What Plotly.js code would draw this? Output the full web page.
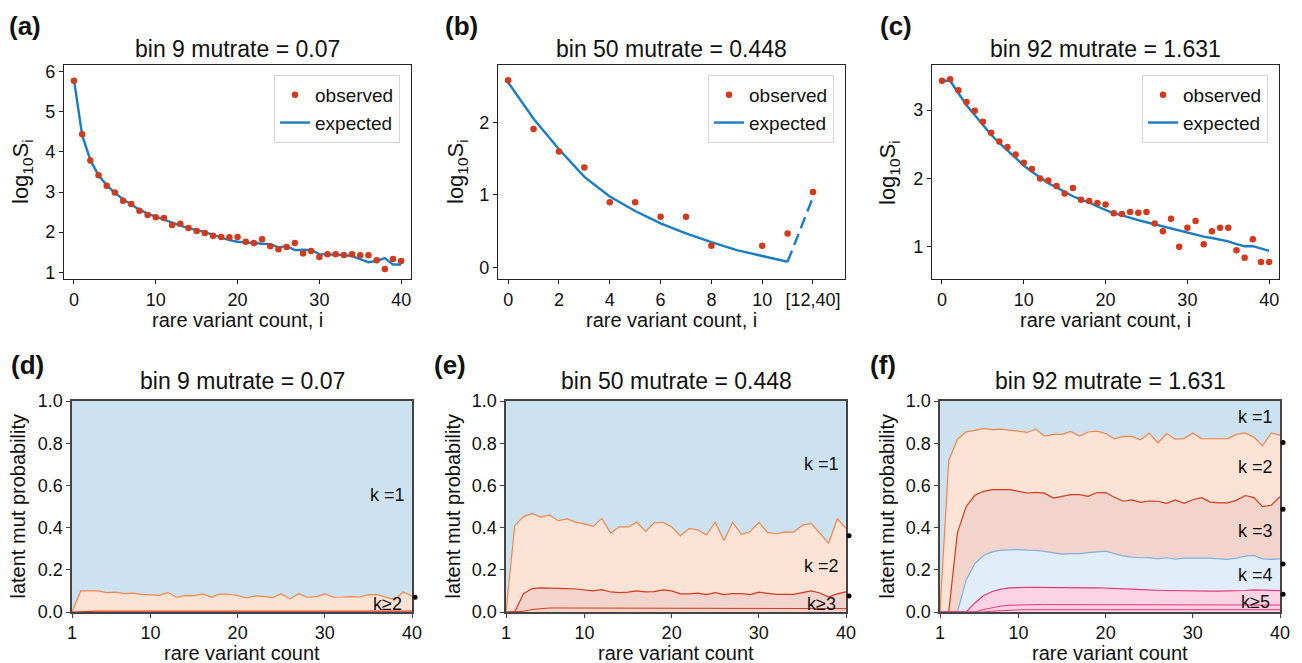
<!DOCTYPE html>
<html>
<head>
<meta charset="utf-8">
<script src="https://cdn.plot.ly/plotly-3.0.1.min.js"></script>
<style>html,body{margin:0;padding:0;background:#fff}#chart{width:1302px;height:663px}</style>
</head>
<body>
<div id="chart"></div>
<script>
// ---------- DATA ----------
// Panel (a) bin 9
const titleA = "bin 9 mutrate = 0.07";
const aX = [0,1,2,3,4,5,6,7,8,9,10,11,12,13,14,15,16,17,18,19,20,21,22,23,24,25,26,27,28,29,30,31,32,33,34,35,36,37,38,39,40];
const aObs = [5.78,4.44,3.79,3.42,3.16,2.99,2.78,2.70,2.53,2.43,2.37,2.35,2.18,2.21,2.10,2.03,1.98,1.91,1.88,1.87,1.88,1.76,1.73,1.82,1.65,1.57,1.63,1.73,1.47,1.53,1.38,1.45,1.45,1.43,1.45,1.42,1.42,1.30,1.08,1.33,1.28];
const aExp = [5.80,4.42,3.80,3.42,3.17,2.98,2.82,2.68,2.56,2.46,2.38,2.31,2.22,2.16,2.10,2.05,2.00,1.93,1.87,1.80,1.76,1.74,1.73,1.71,1.70,1.62,1.65,1.55,1.56,1.55,1.45,1.44,1.43,1.43,1.40,1.33,1.25,1.28,1.35,1.19,1.19];

// Panel (b) bin 50
const titleB = "bin 50 mutrate = 0.448";
const bObsX = [0,1,2,3,4,5,6,7,8,10,11,12];
const bObs = [2.58,1.91,1.60,1.38,0.90,0.90,0.70,0.70,0.30,0.30,0.47,1.04];
const bExpX = [0,1,2,3,4,5,6,7,8,9,10,11];
const bExp = [2.55,2.05,1.63,1.25,0.98,0.78,0.61,0.47,0.35,0.24,0.16,0.08];
const bTailX = [11,12];
const bTail = [0.08,0.97];
const bTickVals = [0,2,4,6,8,10,12];
const bTickText = ["0","2","4","6","8","10","[12,40]"];

// Panel (c) bin 92
const titleC = "bin 92 mutrate = 1.631";
const cObs = [3.43,3.45,3.29,3.12,2.99,2.83,2.67,2.54,2.46,2.35,2.23,2.14,2.00,1.97,1.89,1.78,1.86,1.69,1.67,1.64,1.62,1.49,1.48,1.51,1.50,1.51,1.34,1.23,1.41,1.00,1.28,1.38,1.04,1.23,1.28,1.28,0.95,0.84,1.11,0.78,0.78];
const cExp = [3.43,3.43,3.25,3.07,2.93,2.79,2.64,2.52,2.41,2.30,2.19,2.10,2.01,1.93,1.87,1.80,1.74,1.69,1.65,1.59,1.54,1.49,1.46,1.42,1.39,1.36,1.33,1.29,1.26,1.24,1.21,1.18,1.15,1.13,1.11,1.08,1.04,1.01,1.01,0.98,0.94];

// Bottom panels: x = rare variant count 1..40; cumulative boundaries P(k>=n)
const kX = [1,2,3,4,5,6,7,8,9,10,11,12,13,14,15,16,17,18,19,20,21,22,23,24,25,26,27,28,29,30,31,32,33,34,35,36,37,38,39,40];
const dK2 = [0,0.100,0.100,0.100,0.092,0.094,0.087,0.089,0.084,0.082,0.079,0.092,0.070,0.079,0.078,0.086,0.071,0.086,0.084,0.078,0.067,0.076,0.074,0.068,0.087,0.062,0.087,0.070,0.073,0.086,0.070,0.071,0.073,0.071,0.082,0.082,0.070,0.059,0.095,0.076];
const dK3 = [0,0.002,0.004,0.004,0.004,0.004,0.004,0.004,0.004,0.004,0.004,0.004,0.004,0.004,0.004,0.004,0.004,0.004,0.004,0.004,0.004,0.004,0.004,0.004,0.004,0.004,0.004,0.004,0.004,0.004,0.004,0.004,0.004,0.004,0.004,0.004,0.004,0.004,0.004,0.004];
const eK2 = [0,0.409,0.452,0.467,0.450,0.460,0.433,0.441,0.426,0.418,0.406,0.444,0.374,0.404,0.403,0.426,0.382,0.423,0.425,0.404,0.361,0.395,0.390,0.365,0.426,0.339,0.425,0.368,0.380,0.425,0.377,0.371,0.380,0.379,0.412,0.420,0.374,0.325,0.442,0.396];
const eK3 = [0,0,0.087,0.111,0.114,0.114,0.112,0.111,0.109,0.106,0.100,0.106,0.095,0.092,0.094,0.100,0.095,0.097,0.105,0.100,0.086,0.086,0.089,0.082,0.092,0.082,0.087,0.087,0.082,0.094,0.090,0.084,0.084,0.084,0.092,0.100,0.090,0.071,0.086,0.095];
const eK4 = [0,0,0.003,0.012,0.017,0.019,0.019,0.019,0.019,0.018,0.018,0.018,0.018,0.018,0.017,0.017,0.017,0.017,0.017,0.017,0.017,0.016,0.016,0.016,0.016,0.016,0.016,0.016,0.016,0.016,0.016,0.016,0.016,0.016,0.016,0.016,0.016,0.016,0.016,0.016];
const fK2 = [0,0.718,0.819,0.854,0.861,0.870,0.864,0.867,0.862,0.857,0.851,0.867,0.834,0.842,0.842,0.856,0.834,0.853,0.857,0.846,0.821,0.832,0.832,0.816,0.848,0.802,0.846,0.819,0.822,0.848,0.822,0.821,0.822,0.822,0.842,0.849,0.829,0.788,0.849,0.838];
const fK3 = [0,0,0.376,0.499,0.553,0.572,0.580,0.580,0.580,0.572,0.564,0.567,0.563,0.540,0.548,0.556,0.556,0.548,0.566,0.566,0.544,0.525,0.531,0.520,0.526,0.525,0.515,0.531,0.515,0.532,0.542,0.521,0.517,0.517,0.529,0.552,0.542,0.499,0.506,0.547];
const fK4 = [0,0,0,0.151,0.230,0.268,0.285,0.293,0.296,0.296,0.293,0.292,0.287,0.282,0.274,0.277,0.277,0.281,0.284,0.288,0.277,0.266,0.260,0.257,0.258,0.252,0.257,0.250,0.255,0.255,0.258,0.255,0.252,0.249,0.255,0.265,0.268,0.252,0.249,0.252];
const fK5 = [0,0,0,0,0.043,0.078,0.097,0.108,0.114,0.117,0.117,0.117,0.116,0.115,0.115,0.114,0.114,0.114,0.115,0.114,0.112,0.110,0.108,0.106,0.103,0.103,0.102,0.101,0.100,0.098,0.099,0.099,0.099,0.099,0.100,0.102,0.105,0.103,0.101,0.101];
const fK6 = [0,0,0,0,0,0.012,0.020,0.028,0.032,0.034,0.035,0.035,0.035,0.035,0.035,0.035,0.035,0.035,0.035,0.035,0.035,0.035,0.034,0.034,0.034,0.034,0.033,0.033,0.033,0.033,0.033,0.033,0.033,0.033,0.033,0.033,0.033,0.033,0.033,0.033];
const fK7 = [0,0,0,0,0,0,0.004,0.007,0.009,0.010,0.011,0.011,0.011,0.011,0.011,0.011,0.011,0.011,0.011,0.011,0.011,0.011,0.011,0.011,0.011,0.011,0.011,0.011,0.011,0.011,0.011,0.011,0.011,0.011,0.011,0.011,0.011,0.011,0.011,0.011];
// marginal (average) probabilities shown as dots right of each panel
const dDots = [0.070];
const eDots = [0.361, 0.076];
const fDots = [0.803, 0.487, 0.227, 0.084];
// region labels
const dLabels = ["k =1", "k≥2"]; const dLabelY = [0.553, 0.036];
const eLabels = ["k =1", "k =2", "k≥3"]; const eLabelY = [0.70, 0.22, 0.04];
const fLabels = ["k =1", "k =2", "k =3", "k =4", "k≥5"]; const fLabelY = [0.924, 0.686, 0.385, 0.174, 0.048];
const panelLetters = ["(a)","(b)","(c)","(d)","(e)","(f)"];

// ---------- STYLE ----------
const W = 1302, H = 663;
const FONT = "Liberation Sans, Arial, Helvetica, sans-serif";
const C_OBS = "#d23a1d", C_EXP = "#1a7dc2";
const C_K1 = "#cce2f0", C_K2 = "#fde3d5", C_K3 = "#f2d4cc", C_K4 = "#e0ecf7", C_K5 = "#fcd3e3";
const L_K2 = "#f0874a", L_K3 = "#d63a1c", L_K4 = "#7fb0e0", L_K5 = "#e6397a";
const px = v => v / W, py = v => 1 - v / H;

// subplot boxes in pixels [x0,x1,y0(top),y1(bottom)]
const boxes = [
  [64, 411, 65, 279], [498, 845, 65, 279], [932, 1279, 65, 279],
  [72, 412, 401, 612], [506, 846, 401, 612], [940, 1280, 401, 612]
];

const traces = [];
// (a)
traces.push({x: aX, y: aExp, mode: "lines", line: {color: C_EXP, width: 2.4}, name: "expected", xaxis: "x", yaxis: "y", legend: "legend", legendrank: 2});
traces.push({x: aX, y: aObs, mode: "markers", marker: {color: C_OBS, size: 6.5}, name: "observed", xaxis: "x", yaxis: "y", legend: "legend", legendrank: 1});
// (b)
traces.push({x: bExpX, y: bExp, mode: "lines", line: {color: C_EXP, width: 2.4}, name: "expected", xaxis: "x2", yaxis: "y2", legend: "legend2", legendrank: 2});
traces.push({x: bTailX, y: bTail, mode: "lines", line: {color: C_EXP, width: 2.4, dash: "12px,6px"}, showlegend: false, xaxis: "x2", yaxis: "y2"});
traces.push({x: bObsX, y: bObs, mode: "markers", marker: {color: C_OBS, size: 6.5}, name: "observed", xaxis: "x2", yaxis: "y2", legend: "legend2", legendrank: 1});
// (c)
traces.push({x: aX, y: cExp, mode: "lines", line: {color: C_EXP, width: 2.4}, name: "expected", xaxis: "x3", yaxis: "y3", legend: "legend3", legendrank: 2});
traces.push({x: aX, y: cObs, mode: "markers", marker: {color: C_OBS, size: 6.5}, name: "observed", xaxis: "x3", yaxis: "y3", legend: "legend3", legendrank: 1});

function area(y, fill, line, lw, xa, ya) {
  return {x: kX, y: y, mode: "lines", fill: fill ? "tozeroy" : "none", fillcolor: fill, line: {color: line, width: lw}, showlegend: false, xaxis: xa, yaxis: ya, hoverinfo: "skip"};
}
const ones = kX.map(() => 1);
// (d)
traces.push(area(ones, C_K1, "rgba(0,0,0,0)", 0, "x4", "y4"));
traces.push(area(dK2, C_K2, L_K2, 1.2, "x4", "y4"));
traces.push(area(dK3, null, L_K3, 1.2, "x4", "y4"));
// (e)
traces.push(area(ones, C_K1, "rgba(0,0,0,0)", 0, "x5", "y5"));
traces.push(area(eK2, C_K2, L_K2, 1.2, "x5", "y5"));
traces.push(area(eK3, C_K3, L_K3, 1.2, "x5", "y5"));
traces.push(area(eK4, null, L_K3, 1.0, "x5", "y5"));
// (f)
traces.push(area(ones, C_K1, "rgba(0,0,0,0)", 0, "x6", "y6"));
traces.push(area(fK2, C_K2, L_K2, 1.2, "x6", "y6"));
traces.push(area(fK3, C_K3, L_K3, 1.2, "x6", "y6"));
traces.push(area(fK4, C_K4, L_K4, 1.2, "x6", "y6"));
traces.push(area(fK5, C_K5, L_K5, 1.2, "x6", "y6"));
traces.push(area(fK6, null, L_K5, 1.0, "x6", "y6"));
traces.push(area(fK7, null, L_K5, 1.0, "x6", "y6"));
// dots: drawn on hidden, slightly wider x axes (same scale as the panel axis)
[[dDots, "x7", "y4"], [eDots, "x8", "y5"], [fDots, "x9", "y6"]].forEach(([d, xa, ya]) => {
  traces.push({x: d.map(() => 40.35), y: d, mode: "markers", marker: {color: "#000", size: 5}, cliponaxis: false, showlegend: false, xaxis: xa, yaxis: ya});
});

const layout = {
  width: W, height: H, margin: {l: 0, r: 0, t: 0, b: 0},
  paper_bgcolor: "#fff", plot_bgcolor: "rgba(0,0,0,0)",
  font: {family: FONT, size: 16, color: "#111"},
  showlegend: true, annotations: []
};

const topRanges = [[[-1.22, 41.2], [0.83, 6.17]], [[-0.4, 13.26], [-0.157, 2.79]], [[-1.22, 41.2], [0.53, 3.66]]];
const topY = [{tickvals: [1,2,3,4,5,6]}, {tickvals: [0,1,2]}, {tickvals: [1,2,3]}];
const TICKF = {size: 18, family: FONT, color: "#111"};
boxes.forEach((b, i) => {
  const n = i === 0 ? "" : String(i + 1);
  const top = i < 3;
  const lc = top ? "#222" : "#444";
  const lw = top ? 1.2 : 1.6;
  const xa = {domain: [px(b[0]), px(b[1])], anchor: "y" + n, showline: true, mirror: true, linecolor: lc, linewidth: lw,
    ticks: "outside", ticklen: 4, tickwidth: 1, tickcolor: lc, showgrid: false, zeroline: false, automargin: false, tickfont: TICKF};
  const ya = {domain: [py(b[3]), py(b[2])], anchor: "x" + n, showline: true, mirror: true, linecolor: lc, linewidth: lw,
    ticks: "outside", ticklen: 4, tickwidth: 1, tickcolor: lc, showgrid: false, zeroline: false, automargin: false, tickfont: TICKF};
  if (top) {
    xa.range = topRanges[i][0]; ya.range = topRanges[i][1];
    ya.tickvals = topY[i].tickvals;
    if (i === 1) { xa.tickvals = bTickVals; xa.ticktext = bTickText; }
    else { xa.tickvals = [0,10,20,30,40]; }
  } else {
    xa.range = [1, 40]; ya.range = [0, 1];
    xa.tickvals = [1,10,20,30,40];
    ya.tickvals = [0,0.2,0.4,0.6,0.8,1.0]; ya.ticktext = ["0.0","0.2","0.4","0.6","0.8","1.0"];
    // hidden companion axis for the marginal dots, same scale, wider domain
    const ext = 12, perUnit = (b[1] - b[0]) / 39;
    layout["xaxis" + (i + 4)] = {domain: [px(b[0]), px(b[1] + ext)], range: [1, 40 + ext / perUnit], visible: false, anchor: "y" + n, fixedrange: true};
  }
  layout["xaxis" + n] = xa; layout["yaxis" + n] = ya;
  const cx = (b[0] + b[1]) / 2, cy = (b[2] + b[3]) / 2;
  const titles = [titleA, titleB, titleC, titleA, titleB, titleC];
  layout.annotations.push({xref: "paper", yref: "paper", x: px(cx), y: py(top ? 49 : 381), text: titles[i], showarrow: false, font: {size: 23, family: FONT, color: "#111"}, xanchor: "center", yanchor: "middle"});
  layout.annotations.push({xref: "paper", yref: "paper", x: px(cx), y: py(top ? 320 : 653), text: top ? "rare variant count, i" : "rare variant count", showarrow: false, font: {size: 20, family: FONT, color: "#111"}, xanchor: "center", yanchor: "middle"});
  const ytx = [22, 457, 889, 18, 453, 887][i];
  layout.annotations.push({xref: "paper", yref: "paper", x: px(ytx), y: py(cy), text: top ? "log<sub>10</sub>S<sub>i</sub>" : "latent mut probability", textangle: -90, showarrow: false, font: {size: top ? 22 : 20, family: FONT, color: "#111"}, xanchor: "center", yanchor: "middle"});
  const lx = [25, 461, 896, 27, 450, 883][i];
  layout.annotations.push({xref: "paper", yref: "paper", x: px(lx), y: py(top ? 26 : 365), text: "<b>" + panelLetters[i] + "</b>", showarrow: false, font: {size: 26, family: FONT, color: "#111"}, xanchor: "center", yanchor: "middle"});
});

// k labels
[[dLabels, dLabelY, "x4", "y4"], [eLabels, eLabelY, "x5", "y5"], [fLabels, fLabelY, "x6", "y6"]].forEach(([labs, ys, xa, ya]) => {
  labs.forEach((t, j) => layout.annotations.push({xref: xa, yref: ya, x: 37.2, y: ys[j], text: t, showarrow: false, font: {size: 18, family: FONT, color: "#111"}, xanchor: "center", yanchor: "middle"}));
});

// legends
const legBase = {bgcolor: "rgba(255,255,255,0.85)", bordercolor: "#d6d6d6", borderwidth: 1, font: {size: 19, family: FONT, color: "#111"}, xanchor: "right", yanchor: "top", tracegroupgap: 0, itemwidth: 30};
layout.legend = Object.assign({}, legBase, {x: px(400), y: py(75)});
layout.legend2 = Object.assign({}, legBase, {x: px(834), y: py(75)});
layout.legend3 = Object.assign({}, legBase, {x: px(1268), y: py(75)});

Plotly.newPlot("chart", traces, layout, {displayModeBar: false, staticPlot: true});
</script>
</body>
</html>
